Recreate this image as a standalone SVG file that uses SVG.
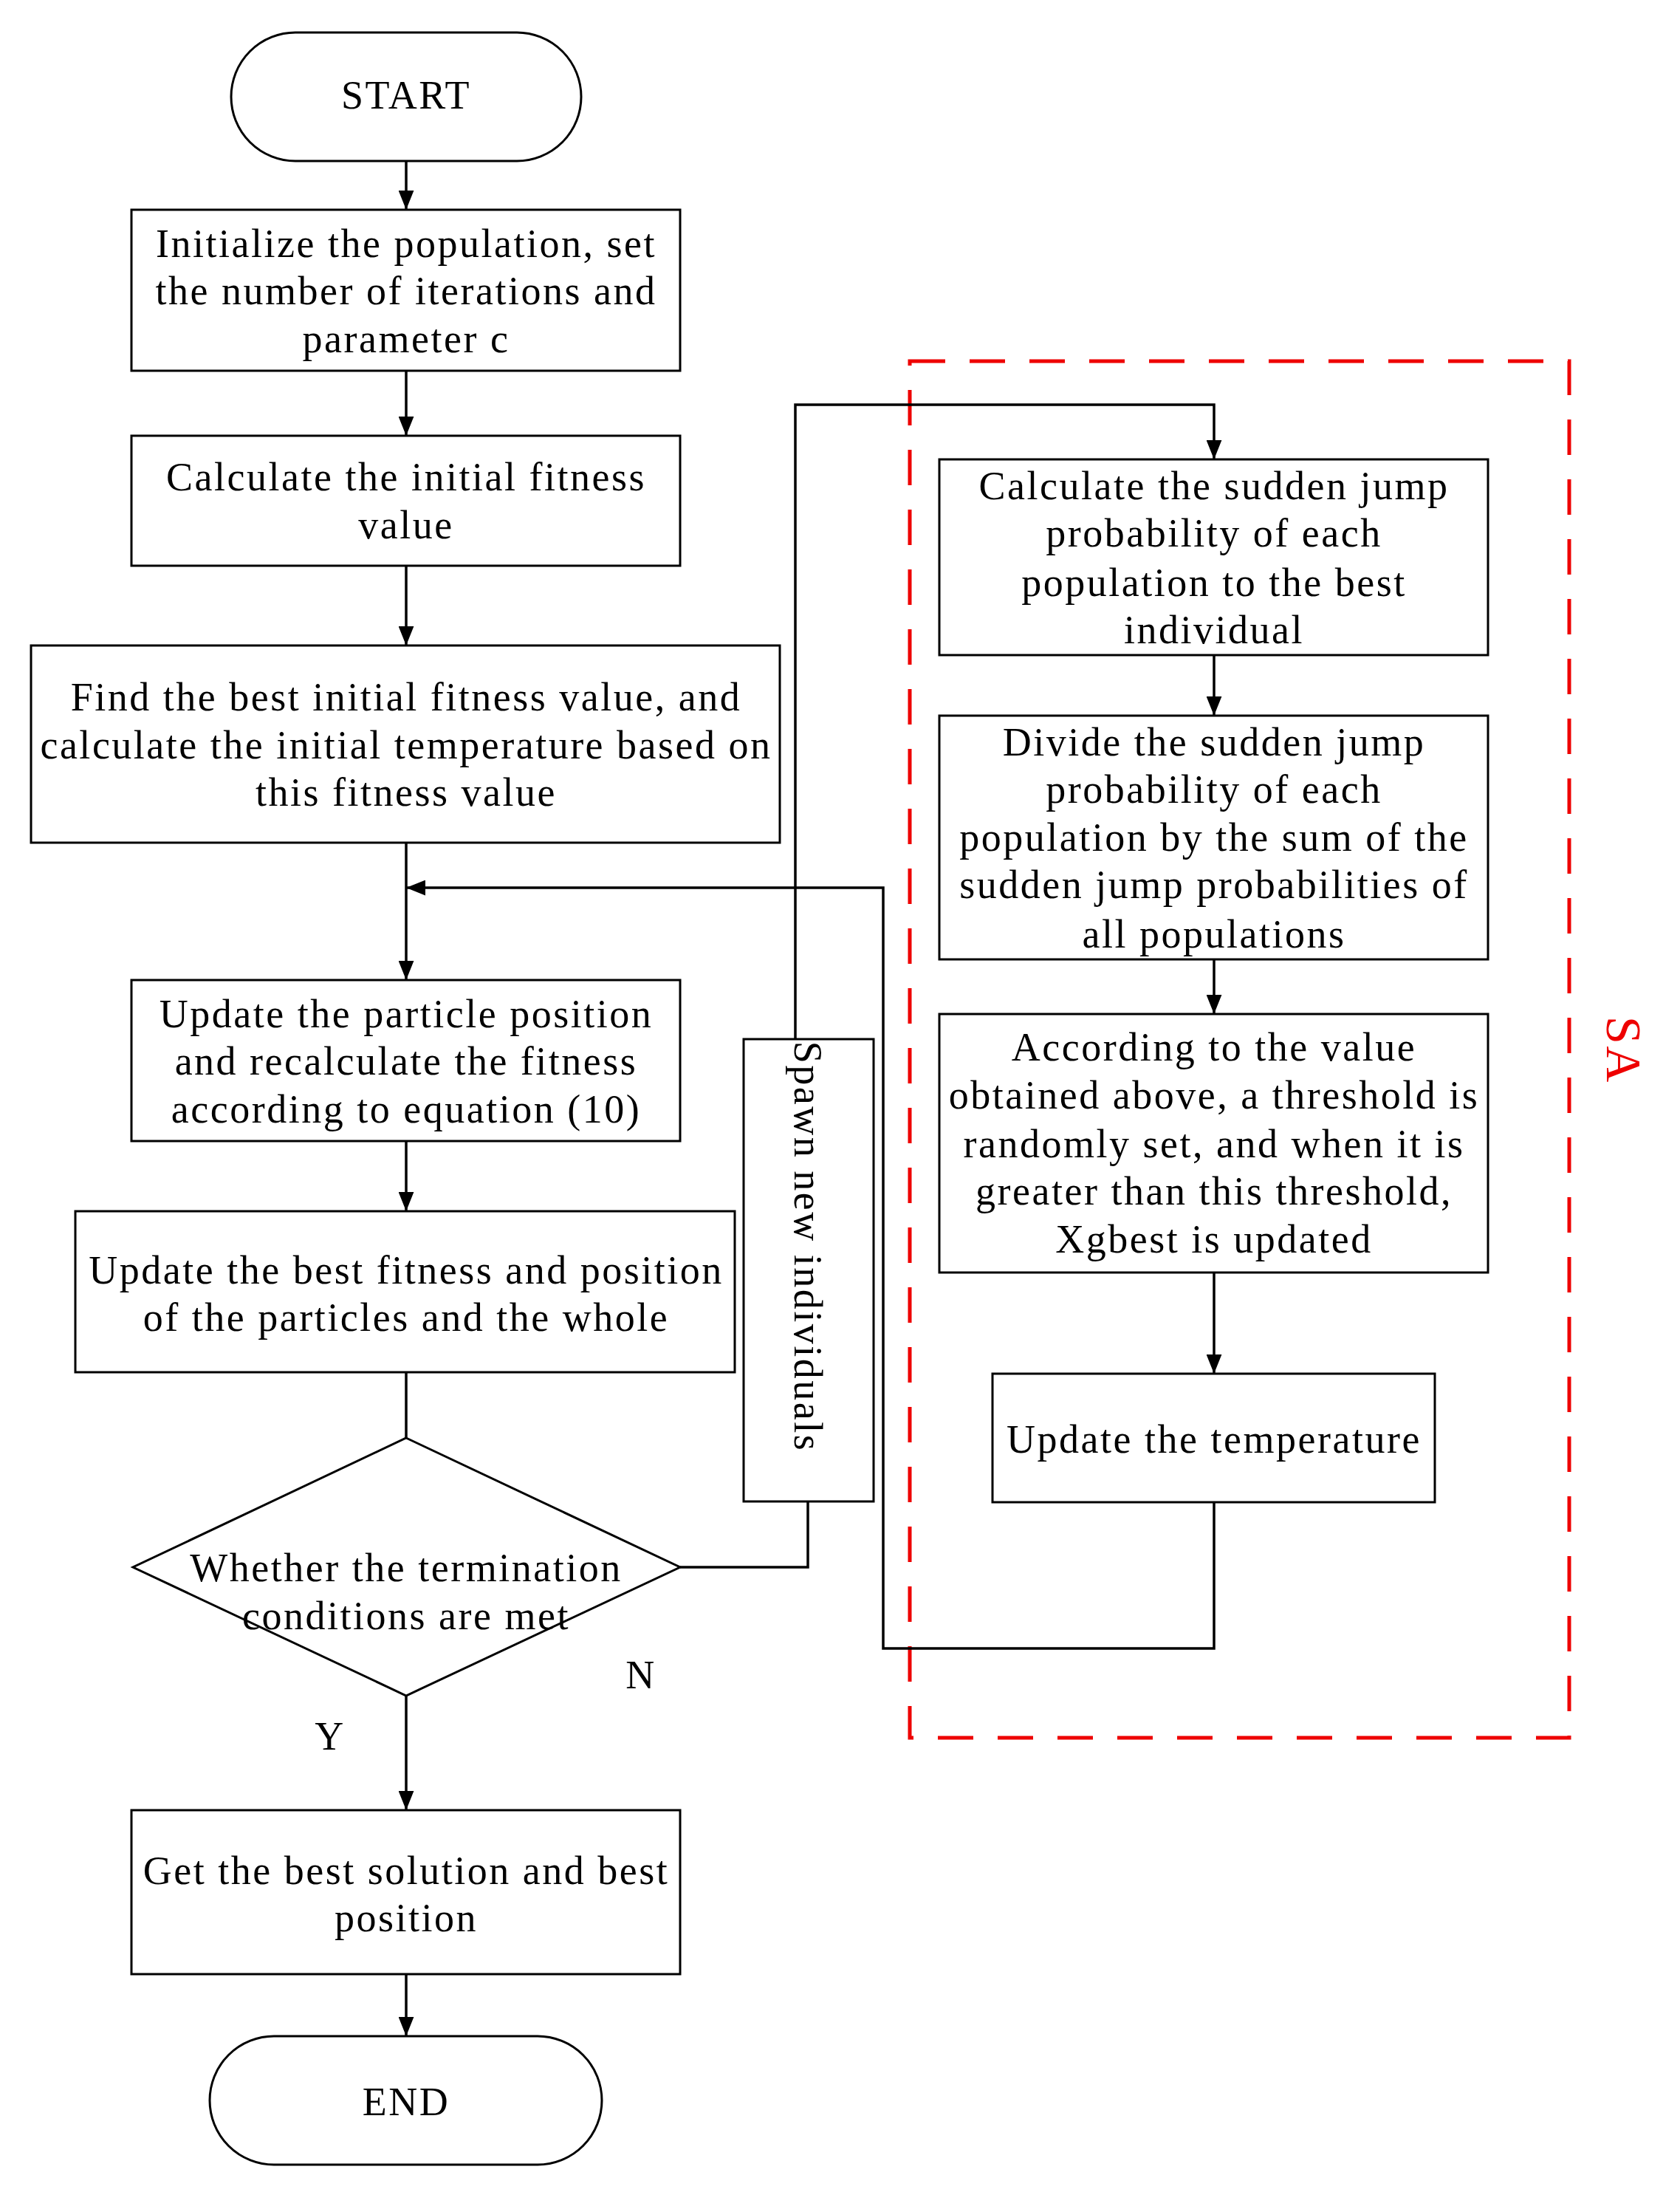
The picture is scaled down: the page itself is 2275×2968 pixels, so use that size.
<svg xmlns="http://www.w3.org/2000/svg" width="2275" height="2968" viewBox="0 0 2275 2968">
<style>
.b{fill:#fff;stroke:#000;stroke-width:3}
.t{font-family:"Liberation Serif",serif;font-size:54px;letter-spacing:2.5px;text-anchor:middle;dominant-baseline:central;fill:#000}
.c{fill:none;stroke:#000;stroke-width:3.5}
</style>
<defs>
<marker id="A" viewBox="0 0 20 16" refX="20" refY="8" markerWidth="26" markerHeight="21" orient="auto" markerUnits="userSpaceOnUse"><path d="M0,0L20,8L0,16z" fill="#000"/></marker></defs>
<rect x="1232" y="489" width="893" height="1864" fill="none" stroke="#e00" stroke-width="5" stroke-dasharray="48,33"/>
<text x="2199" y="1422" transform="rotate(90 2199 1422)" class="t" style="fill:#e00;font-size:68px">SA</text>
<g id="conn">
<path class="c" marker-end="url(#A)" d="M550,218V284"/>
<path class="c" marker-end="url(#A)" d="M550,502V590"/>
<path class="c" marker-end="url(#A)" d="M550,766V874"/>
<path class="c" marker-end="url(#A)" d="M550,1141V1327"/>
<path class="c" marker-end="url(#A)" d="M1644,2034V2232H1196V1202H550"/>
<path class="c" marker-end="url(#A)" d="M550,1545V1640"/>
<path class="c" d="M550,1858V1947"/>
<path class="c" d="M921,2122H1094V2033"/>
<path class="c" marker-end="url(#A)" d="M1077,1407V548H1644V622"/>
<path class="c" marker-end="url(#A)" d="M1644,887V969"/>
<path class="c" marker-end="url(#A)" d="M1644,1299V1373"/>
<path class="c" marker-end="url(#A)" d="M1644,1723V1860"/>
<path class="c" marker-end="url(#A)" d="M550,2296V2451"/>
<path class="c" marker-end="url(#A)" d="M550,2673V2757"/>
<text class="t" x="868" y="2268">N</text>
<text class="t" x="447" y="2351">Y</text>
</g>
<g id="start"><rect class="b" x="313" y="44" width="474" height="174" rx="87"/><text class="t" x="550" y="129">START</text></g>
<g id="n1"><rect class="b" x="178" y="284" width="743" height="218"/><text class="t" x="550" y="330">Initialize the population, set</text><text class="t" x="550" y="394">the number of iterations and</text><text class="t" x="550" y="459">parameter c</text></g>
<g id="n2"><rect class="b" x="178" y="590" width="743" height="176"/><text class="t" x="550" y="646">Calculate the initial fitness</text><text class="t" x="550" y="711">value</text></g>
<g id="n3"><rect class="b" x="42" y="874" width="1014" height="267"/><text class="t" x="550" y="944">Find the best initial fitness value, and</text><text class="t" x="550" y="1009">calculate the initial temperature based on</text><text class="t" x="550" y="1073">this fitness value</text></g>
<g id="n4"><rect class="b" x="178" y="1327" width="743" height="218"/><text class="t" x="550" y="1373">Update the particle position</text><text class="t" x="550" y="1437">and recalculate the fitness</text><text class="t" x="550" y="1502">according to equation (10)</text></g>
<g id="n5"><rect class="b" x="102" y="1640" width="893" height="218"/><text class="t" x="550" y="1720">Update the best fitness and position</text><text class="t" x="550" y="1784">of the particles and the whole</text></g>
<g id="d"><path class="b" d="M550,1947L921,2122L550,2296L180,2122z"/><text class="t" x="550" y="2123">Whether the termination</text><text class="t" x="550" y="2188">conditions are met</text></g>
<g id="n6"><rect class="b" x="178" y="2451" width="743" height="222"/><text class="t" x="550" y="2533">Get the best solution and best</text><text class="t" x="550" y="2597">position</text></g>
<g id="end"><rect class="b" x="284" y="2757" width="531" height="174" rx="87"/><text class="t" x="550" y="2846">END</text></g>
<g id="spawn"><rect class="b" x="1007" y="1407" width="176" height="626"/><text class="t" x="1094" y="1688" transform="rotate(90 1094 1688)">Spawn new individuals</text></g>
<g id="r1"><rect class="b" x="1272" y="622" width="743" height="265"/><text class="t" x="1644" y="658">Calculate the sudden jump</text><text class="t" x="1644" y="722">probability of each</text><text class="t" x="1644" y="789">population to the best</text><text class="t" x="1644" y="853">individual</text></g>
<g id="r2"><rect class="b" x="1272" y="969" width="743" height="330"/><text class="t" x="1644" y="1005">Divide the sudden jump</text><text class="t" x="1644" y="1069">probability of each</text><text class="t" x="1644" y="1134">population by the sum of the</text><text class="t" x="1644" y="1198">sudden jump probabilities of</text><text class="t" x="1644" y="1265">all populations</text></g>
<g id="r3"><rect class="b" x="1272" y="1373" width="743" height="350"/><text class="t" x="1644" y="1418">According to the value</text><text class="t" x="1644" y="1483">obtained above, a threshold is</text><text class="t" x="1644" y="1549">randomly set, and when it is</text><text class="t" x="1644" y="1613">greater than this threshold,</text><text class="t" x="1644" y="1678">Xgbest is updated</text></g>
<g id="r4"><rect class="b" x="1344" y="1860" width="599" height="174"/><text class="t" x="1644" y="1949">Update the temperature</text></g>
</svg>
